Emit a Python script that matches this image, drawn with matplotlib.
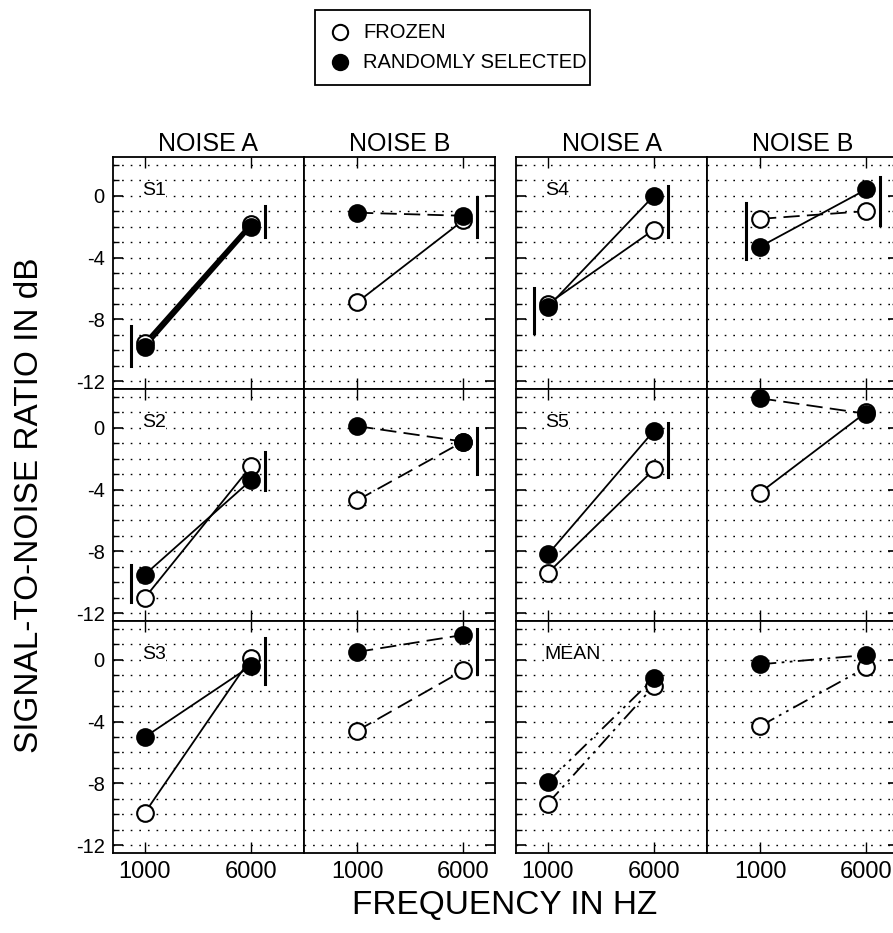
import matplotlib
matplotlib.use("Agg")
import matplotlib.pyplot as plt
from matplotlib.lines import Line2D
from matplotlib.patches import Rectangle
from matplotlib.ticker import MultipleLocator, FixedLocator

plt.rcParams['font.family'] = ['Liberation Sans', 'DejaVu Sans']

# ---------------- data ----------------
freqs = [1000, 6000]
subjects = ['S1', 'S2', 'S3', 'S4', 'S5', 'MEAN']
frozen_noiseA = [[-9.5, -1.8], [-11.0, -2.5], [-9.9, 0.1], [-7.0, -2.2], [-9.4, -2.7], [-9.3, -1.7]]
random_noiseA = [[-9.8, -2.0], [-9.5, -3.4], [-5.0, -0.4], [-7.2, 0.0], [-8.2, -0.2], [-7.9, -1.2]]
frozen_noiseB = [[-6.9, -1.6], [-4.7, -0.9], [-4.6, -0.7], [-1.5, -1.0], [-4.2, 1.0], [-4.3, -0.5]]
random_noiseB = [[-1.1, -1.3], [0.1, -0.9], [0.5, 1.6], [-3.3, 0.4], [1.9, 0.9], [-0.3, 0.3]]

# error bars (subject index, noise, frequency, high, low)
err_subject = [0, 0, 0, 1, 1, 1, 2, 2, 3, 3, 3, 3, 4]
err_noise = ['A', 'A', 'B', 'A', 'A', 'B', 'A', 'B', 'A', 'A', 'B', 'B', 'A']
err_freq = [1000, 6000, 6000, 1000, 6000, 6000, 6000, 6000, 1000, 6000, 1000, 6000, 6000]
err_high = [-8.4, -0.7, -0.1, -8.9, -1.6, 0.0, 1.4, 2.0, -6.0, 0.6, -0.45, 1.2, 0.3]
err_low = [-11.0, -2.7, -2.7, -11.3, -4.0, -3.0, -1.6, -0.9, -8.9, -2.7, -4.1, -1.9, -3.2]

yticks = [0, -4, -8, -12]
xtick_labels = ['1000', '6000']
noise_titles = ['NOISE A', 'NOISE B']
legend_labels = ['FROZEN', 'RANDOMLY SELECTED']

# ---------------- styles ----------------
DASH = (0, (9, 4))
DDOT = (0, (9, 3, 1.5, 3, 1.5, 3))
styleA = {'frozen': ['-', '-', '-', '-', '-', DDOT], 'random': ['-', '-', '-', '-', '-', DDOT]}
styleB = {'frozen': ['-', DASH, DASH, DASH, '-', DDOT], 'random': [DASH, DASH, DASH, '-', DASH, DDOT]}
MS = 12

W, H = 893, 933
fig = plt.figure(figsize=(W / 100, H / 100), dpi=100)


def rect(x0, y0, x1, y1):
    return [x0 / W, 1 - y1 / H, (x1 - x0) / W, (y1 - y0) / H]


def fx(x):
    return x / W


def fy(y):
    return 1 - y / H


group_x = [(113, 304, 495), (516, 707, 898)]
row_y = [(157, 389), (389, 621), (621, 853)]
xlims = {'A': (-500, 8500), 'B': (-1500, 7500)}
err_off = 650

for si, subj in enumerate(subjects):
    g = si // 3
    r = si % 3
    xa, xm, xb = group_x[g]
    y0, y1 = row_y[r]
    for noise, (xl, xr) in zip(['A', 'B'], [(xa, xm), (xm, xb)]):
        ax = fig.add_axes(rect(xl, y0, xr, y1))
        ax.set_xlim(*xlims[noise])
        ax.set_ylim(-12.5, 2.5)
        ax.yaxis.set_major_locator(FixedLocator(yticks))
        ax.yaxis.set_minor_locator(MultipleLocator(1))
        for y in range(-12, 3):
            ax.axhline(y, color='black', lw=1.0, ls=(0, (1.2, 5)), zorder=0)
        ax.set_xticks(freqs)
        ax.tick_params(axis='x', direction='in', length=8, width=1, top=True, bottom=True,
                       labelsize=17, pad=6)
        left_t = (noise == 'A')
        right_t = (noise == 'B')
        ax.tick_params(axis='y', which='major', direction='in', length=7, width=1.2,
                       left=left_t, right=right_t, labelsize=14.5, pad=6)
        ax.tick_params(axis='y', which='minor', direction='in', length=4, width=1,
                       left=left_t, right=right_t)
        if r == 2:
            ax.set_xticklabels(xtick_labels)
        else:
            ax.set_xticklabels([])
        if g == 0 and noise == 'A':
            ax.set_yticklabels([str(t) for t in yticks])
        else:
            ax.set_yticklabels([])
        for sp in ax.spines.values():
            sp.set_linewidth(1.3)
        if r == 0:
            ax.text(0.5, 1.0, noise_titles[0 if noise == 'A' else 1], transform=ax.transAxes,
                    ha='center', va='center', fontsize=18).set_position((0.5, 1.055))

        fz = frozen_noiseA[si] if noise == 'A' else frozen_noiseB[si]
        rd = random_noiseA[si] if noise == 'A' else random_noiseB[si]
        st = styleA if noise == 'A' else styleB
        lw = 2.4 if (si == 0 and noise == 'A') else 1.3
        ax.plot(freqs, fz, ls=st['frozen'][si], color='black', lw=lw, zorder=2)
        ax.plot(freqs, rd, ls=st['random'][si], color='black', lw=lw, zorder=2)
        ax.plot(freqs, fz, ls='none', marker='o', ms=MS, mfc='white', mec='black', mew=1.5, zorder=3)
        ax.plot(freqs, rd, ls='none', marker='o', ms=MS, mfc='black', mec='black', mew=1.5, zorder=4)

        for k in range(len(err_subject)):
            if err_subject[k] == si and err_noise[k] == noise:
                xe = err_freq[k] + (err_off if err_freq[k] == 6000 else -err_off)
                ax.plot([xe, xe], [err_low[k], err_high[k]], color='black', lw=2.2, zorder=3)

        if noise == 'A':
            ax.text(850, 0.35, subj, ha='left', va='center', fontsize=14,
                    bbox=dict(facecolor='white', edgecolor='none', pad=0.5))

fig.text(fx(505), fy(905), 'FREQUENCY IN HZ', ha='center', va='center', fontsize=24)
fig.text(fx(30), fy(505), 'SIGNAL-TO-NOISE RATIO IN dB', ha='center', va='center',
         rotation=90, fontsize=24)

# legend box drawn in figure pixel coordinates
fig.patches.append(Rectangle((fx(315), fy(85)), fx(590) - fx(315), fy(10) - fy(85),
                             transform=fig.transFigure, facecolor='white', edgecolor='black',
                             lw=1.3, zorder=1))
for i, (lab, fc) in enumerate(zip(legend_labels, ['white', 'black'])):
    yy = fy(32 + 30 * i)
    fig.add_artist(Line2D([fx(340)], [yy], ls='none', marker='o', ms=MS - 1, mfc=fc,
                          mec='black', mew=1.5, transform=fig.transFigure, zorder=2))
    fig.text(fx(363), yy, lab, ha='left', va='center', fontsize=14.5, zorder=3)

fig.savefig('out.png', dpi=100)
